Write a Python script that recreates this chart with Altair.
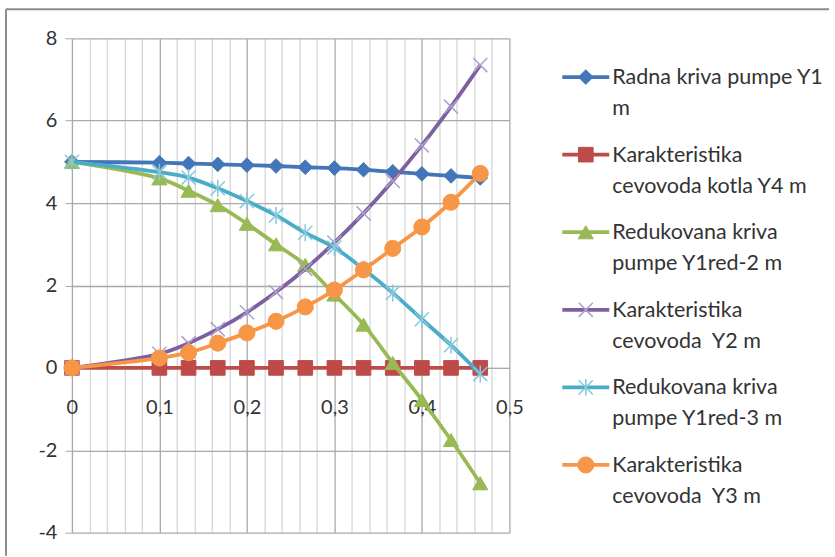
import altair as alt
import pandas as pd

X = [0, 0.1, 0.1333, 0.1667, 0.2, 0.2333, 0.2667, 0.3, 0.3333, 0.3667, 0.4, 0.4333, 0.4667]
Y1 = [5.0, 4.98, 4.96, 4.94, 4.92, 4.90, 4.87, 4.85, 4.81, 4.76, 4.71, 4.66, 4.61]
Y4 = [0, 0, 0, 0, 0, 0, 0, 0, 0, 0, 0, 0, 0]
Y1RED2 = [5.0, 4.6, 4.3, 3.95, 3.5, 3.0, 2.5, 1.78, 1.05, 0.12, -0.78, -1.75, -2.8]
Y2 = [0, 0.34, 0.6, 0.94, 1.35, 1.84, 2.4, 3.04, 3.75, 4.54, 5.4, 6.34, 7.35]
Y1RED3 = [5.0, 4.75, 4.62, 4.36, 4.05, 3.7, 3.28, 2.92, 2.4, 1.82, 1.18, 0.55, -0.15]
Y3 = [0, 0.24, 0.37, 0.6, 0.85, 1.13, 1.48, 1.89, 2.38, 2.9, 3.42, 4.02, 4.72]

SERIES = ["Y1", "Y4", "Y1red-2", "Y2", "Y1red-3", "Y3"]
LABELS = [
    "Radna kriva pumpe Y1\nm",
    "Karakteristika\ncevovoda kotla Y4 m",
    "Redukovana kriva\npumpe Y1red-2 m",
    "Karakteristika\ncevovoda\u00a0 Y2 m",
    "Redukovana kriva\npumpe Y1red-3 m",
    "Karakteristika\ncevovoda\u00a0 Y3 m",
]
VALUES = [Y1, Y4, Y1RED2, Y2, Y1RED3, Y3]

X_TICKS = [0, 0.02, 0.04, 0.06, 0.08, 0.1, 0.12, 0.14, 0.16, 0.18, 0.2, 0.22, 0.24, 0.26,
           0.28, 0.3, 0.32, 0.34, 0.36, 0.38, 0.4, 0.42, 0.44, 0.46, 0.48, 0.5]
Y_TICKS = [-4, -2, 0, 2, 4, 6, 8]

XPATH = "M-1,-1L1,1M-1,1L1,-1"
STARPATH = "M-1,-1L1,1M-1,1L1,-1M0,-1.2L0,1.2"
STYLES = {
    "Y1": dict(color="#4376B8", shape="diamond", filled=True, size=215, mcolor="#4376B8", sw=1),
    "Y4": dict(color="#BE4B48", shape="square", filled=True, size=215, mcolor="#BE4B48", sw=1),
    "Y1red-2": dict(color="#98B954", shape="triangle-up", filled=True, size=230, mcolor="#98B954", sw=1),
    "Y2": dict(color="#7D60A0", shape=XPATH, filled=False, size=200, mcolor="#ADA0CC", sw=1.5),
    "Y1red-3": dict(color="#4BACC6", shape=STARPATH, filled=False, size=200, mcolor="#86C8DD", sw=1.5),
    "Y3": dict(color="#F79646", shape="circle", filled=True, size=260, mcolor="#F79646", sw=1),
}

FONT = "Lato"
TXT = "#333333"

rows = []
for s, vals in zip(SERIES, VALUES):
    for xv, yv in zip(X, vals):
        rows.append({"x": xv, "y": yv, "series": s})
df = pd.DataFrame(rows)

major = "abs(datum.value*10 - round(datum.value*10)) < 0.000001"
x_axis = alt.Axis(
    values=X_TICKS, title=None, grid=True,
    gridColor={"condition": {"test": major, "value": "#a9a9a9"}, "value": "#d6d6d6"},
    gridWidth=1.3,
    labelExpr=f"{major} ? (datum.value == 0 ? '0' : replace(format(datum.value, '.1f'), '.', ',')) : ''",
    labelOverlap=False, labelFlush=False, offset=-165, domainColor="#a9a9a9",
    ticks=False, labelPadding=30, labelFont=FONT, labelFontSize=20, labelColor=TXT,
)
y_axis = alt.Axis(
    values=Y_TICKS, title=None, grid=True, gridColor="#a9a9a9", gridWidth=1.3,
    domain=False, tickColor="#a9a9a9", tickSize=7, labelPadding=8,
    labelExpr="'' + datum.value",
    labelFont=FONT, labelFontSize=20, labelColor=TXT,
)
xs = alt.Scale(domain=[0, 0.5], nice=False, zero=False)
ys = alt.Scale(domain=[-4, 8], nice=False, zero=False)
XE = alt.X("x:Q", scale=xs, axis=x_axis)
YE = alt.Y("y:Q", scale=ys, axis=y_axis)

layers = []
for s in SERIES:
    st = STYLES[s]
    sub = df[df.series == s]
    layers.append(
        alt.Chart(sub).mark_line(color=st["color"], strokeWidth=3.8, interpolate="catmull-rom").encode(x=XE, y=YE)
    )
    pt = dict(shape=st["shape"], filled=st["filled"], size=st["size"], opacity=1, strokeWidth=st["sw"])
    if st["filled"]:
        pt.update(fill=st["mcolor"], stroke=st["mcolor"])
    else:
        pt.update(stroke=st["mcolor"])
    layers.append(alt.Chart(sub).mark_point(**pt).encode(x=XE, y=YE))

frame = pd.DataFrame({"a": [0]})
layers.append(alt.Chart(frame).mark_rule(color="#8c8c8c", strokeWidth=2).encode(
    x=alt.value(-66), y=alt.value(-29), y2=alt.value(518)))
layers.append(alt.Chart(frame).mark_rule(color="#8c8c8c", strokeWidth=2).encode(
    x=alt.value(-66), x2=alt.value(758), y=alt.value(-29)))

plot = alt.layer(*layers).properties(width=438, height=495)

leg_df = pd.DataFrame({"series": SERIES, "label": LABELS})
ly = alt.Y("series:N", scale=alt.Scale(domain=SERIES, type="point", padding=0.5), axis=None)
leg_layers = []
for s in SERIES:
    st = STYLES[s]
    sub = leg_df[leg_df.series == s]
    leg_layers.append(alt.Chart(sub).mark_rule(color=st["color"], strokeWidth=3.8).encode(
        x=alt.value(8), x2=alt.value(55), y=ly))
    pt = dict(shape=st["shape"], filled=st["filled"], size=st["size"], opacity=1, strokeWidth=st["sw"])
    if st["filled"]:
        pt.update(fill=st["mcolor"], stroke=st["mcolor"])
    else:
        pt.update(stroke=st["mcolor"])
    leg_layers.append(alt.Chart(sub).mark_point(**pt).encode(x=alt.value(31.5), y=ly))
leg_layers.append(alt.Chart(leg_df).mark_text(
    align="left", baseline="top", dy=-10, lineBreak="\n", lineHeight=31,
    font=FONT, fontSize=21.5, color=TXT).encode(x=alt.value(58), y=ly, text="label:N"))
legend = alt.layer(*leg_layers).properties(width=272, height=466)

chart = alt.hconcat(plot, legend, spacing=45, bounds="flush").properties(
    padding={"left": 5, "top": 8, "right": 5, "bottom": 5}
).configure_view(stroke=None)

chart.save("out.html", embed_options={"renderer": "svg", "actions": False})
